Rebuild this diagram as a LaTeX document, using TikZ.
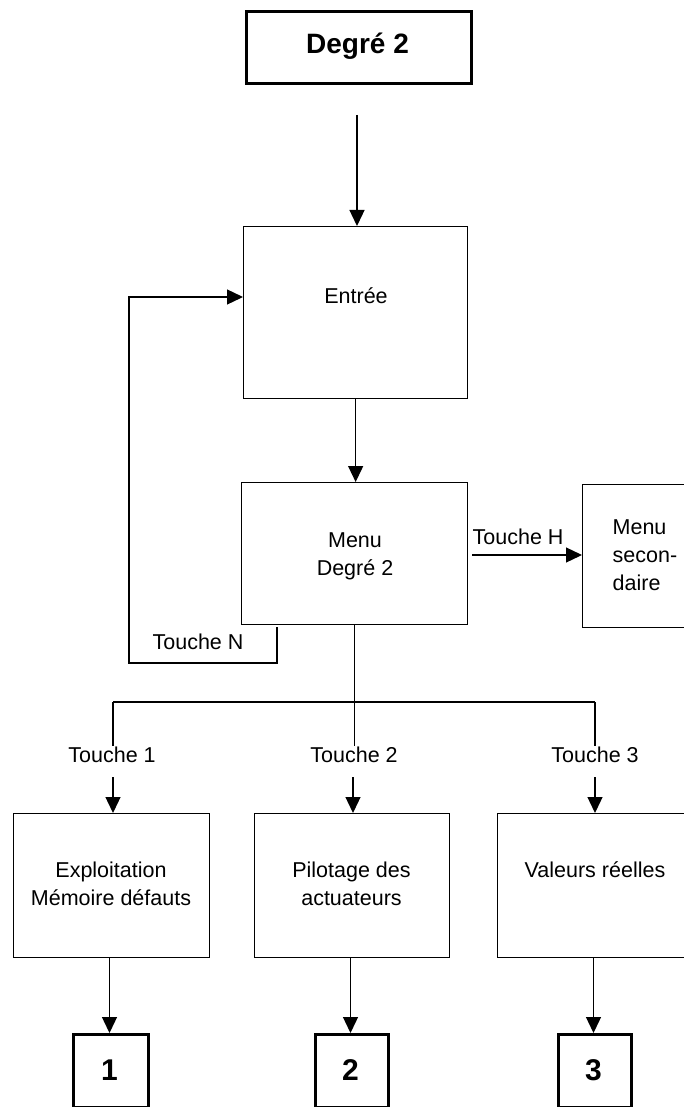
\documentclass[tikz,border=0pt]{standalone}
\usepackage{fontspec}
\setmainfont{Liberation Sans}
\usetikzlibrary{arrows.meta,calc}

\begin{document}
\begin{tikzpicture}[x=1pt,y=-1pt,
  line width=1.3pt,
  every node/.style={font=\fontsize{21.5}{28}\selectfont},
  thinbox/.style={draw, rectangle, inner sep=0pt, anchor=north west},
  thickbox/.style={draw, rectangle, inner sep=0pt, anchor=north west, line width=3pt},
  txt/.style={align=center, inner sep=0pt},
  arr/.style={-{Triangle[length=16pt,width=15pt]}},
  numfont/.style={font=\fontsize{30}{32}\selectfont\bfseries}
]
% page frame
\useasboundingbox (0,0) rectangle (683,1107);

% --- boxes ---
\node[thickbox, minimum width=225pt, minimum height=72pt] (top) at (245,10) {};
\node[txt, font=\fontsize{28}{30}\selectfont\bfseries] (toptxt) at (357.5,46) {Degré 2};

\node[thinbox, minimum width=224pt, minimum height=172pt] (entree) at (243,226) {};
\node[txt] (entreetxt) at (356,296) {Entrée};

\node[thinbox, minimum width=226pt, minimum height=142pt] (menu) at (241,482) {};
\node[txt] (menutxt) at (355,556) {Menu\\Degré 2};

\node[thinbox, minimum width=103pt, minimum height=143pt] (menusec) at (582,484) {};
\node[txt, align=left, anchor=west] (menusectxt) at (612,555) {Menu\\secon-\\daire};

\node[thinbox, minimum width=196pt, minimum height=144pt] (b1) at (13,813) {};
\node[txt] (b1txt) at (111,884) {Exploitation\\Mémoire défauts};

\node[thinbox, minimum width=195pt, minimum height=144pt] (b2) at (254,813) {};
\node[txt] (b2txt) at (351.5,884) {Pilotage des\\actuateurs};

\node[thinbox, minimum width=196pt, minimum height=144pt] (b3) at (497,813) {};
\node[txt] (b3txt) at (595,870) {Valeurs réelles};

\node[thickbox, minimum width=75pt, minimum height=73pt] (n1) at (72,1033) {};
\node[txt, numfont] (n1txt) at (109.5,1070) {1};
\node[thickbox, minimum width=73pt, minimum height=73pt] (n2) at (314,1033) {};
\node[txt, numfont] (n2txt) at (350.5,1070) {2};
\node[thickbox, minimum width=73pt, minimum height=73pt] (n3) at (557,1033) {};
\node[txt, numfont] (n3txt) at (593.5,1070) {3};

% --- labels on connectors ---
\node[txt, anchor=west] (th) at (472,537) {Touche H};
\node[txt] (tn) at (198,642) {Touche N};
\node[txt] (t1) at (112,755) {Touche 1};
\node[txt] (t2) at (354,755) {Touche 2};
\node[txt] (t3) at (595,755) {Touche 3};

% --- connector end points ---
\coordinate (topin) at (357,115);
\coordinate (hstart) at (472,555);
\coordinate (nstart) at (277,627);
\coordinate (nin) at ($(entree.north west)+(0,71)$);
\coordinate (s1) at (113,702);
\coordinate (s3) at (595,702);
\coordinate (split) at (menu.south |- s1);
\coordinate (a1) at (113,777);
\coordinate (a2) at (353,777);
\coordinate (a3) at (595,777);

% --- connectors ---
\draw[arr] (topin) -- (topin |- entree.north);
\draw[arr] (entree.south) -- (entree.south |- menu.north);
\draw[arr] (hstart) -- (hstart -| menusec.west);
\draw[arr] (nstart) -- (277,663) -- (129,663) |- (nin);

\draw (menu.south) -- (split);
\draw (s1) -- (s3);
\draw (s1) -- (s1 |- t1.north);
\draw (split) -- (split |- t2.north);
\draw (s3) -- (s3 |- t3.north);

\draw[arr] (a1) -- (a1 |- b1.north);
\draw[arr] (a2) -- (a2 |- b2.north);
\draw[arr] (a3) -- (a3 |- b3.north);

\draw[arr] (b1.south -| n1txt) -- (n1.north -| n1txt);
\draw[arr] (b2.south -| n2txt) -- (n2.north -| n2txt);
\draw[arr] (b3.south -| n3txt) -- (n3.north -| n3txt);
\end{tikzpicture}
\end{document}
